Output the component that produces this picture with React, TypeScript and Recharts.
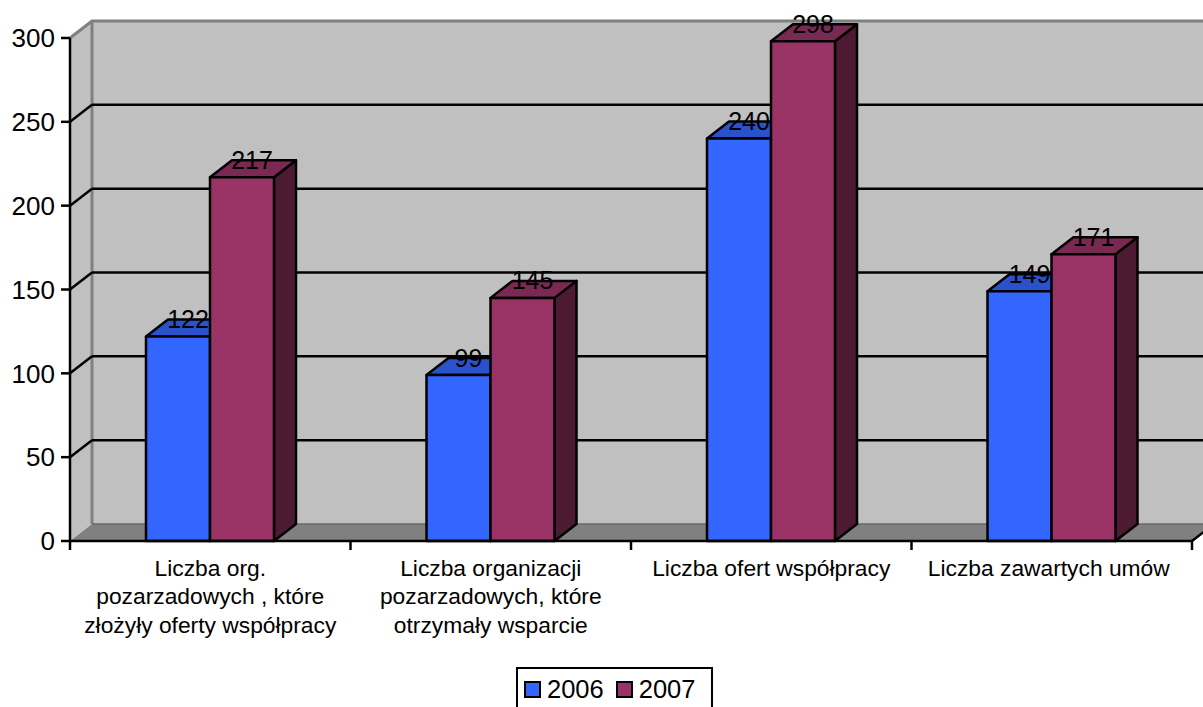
import React from "react"
import { BarChart, Bar, XAxis, YAxis, CartesianGrid, ReferenceArea, Legend } from "recharts"

const categories = [
    "Liczba org.\npozarzadowych , które\nzłożyły oferty współpracy",
    "Liczba organizacji\npozarzadowych, które\notrzymały wsparcie",
    "Liczba ofert współpracy",
    "Liczba zawartych umów",
]
const values2006 = [122, 99, 240, 149]
const values2007 = [217, 145, 298, 171]
const yTicks = [0, 50, 100, 150, 200, 250, 300]

const chartData = categories.map((name, i) => ({
    name,
    "2006": values2006[i],
    "2007": values2007[i],
}))

const FONT = '"Liberation Sans", Arial, sans-serif'
const DX = 22
const DY = 17
const PLOT_TOP = 38
const PLOT_BOTTOM = 541
const LINE = 2.5

// back wall, left wall and floor
const Walls = ({ x, y, width, height }: any) => {
    const b = y + height
    const r = x + width
    return (
        <g>
            <polygon points={`${x},${y} ${x + DX},${y - DY} ${r + DX},${y - DY} ${r + DX},${b - DY} ${x + DX},${b - DY} ${x},${b}`} fill="#c0c0c0" />
            <polyline points={`${x},${y} ${x + DX},${y - DY} ${r + DX},${y - DY}`} fill="none" stroke="#808080" strokeWidth={3} />
            <line x1={x + DX} y1={y - DY} x2={x + DX} y2={b - DY} stroke="#808080" strokeWidth={3} />
            <polygon points={`${x},${b} ${x + DX},${b - DY} ${r + DX},${b - DY} ${r},${b}`} fill="#808080" />
            <line x1={x + DX} y1={b - DY} x2={r + DX} y2={b - DY} stroke="#6a6a6a" strokeWidth={1.5} />
            <line x1={r} y1={b} x2={r + DX} y2={b - DY} stroke="#000" strokeWidth={LINE} />
        </g>
    )
}

const gridLine = (props: any) => {
    const { x1, y1, x2, y2, key } = props
    if (y1 <= PLOT_TOP + 1 || y1 >= PLOT_BOTTOM - 1) return <g key={key} />
    return (
        <g key={key}>
            <line x1={x1} y1={y1} x2={x1 + DX} y2={y1 - DY} stroke="#000" strokeWidth={LINE} />
            <line x1={x1 + DX} y1={y1 - DY} x2={x2 + DX} y2={y2 - DY} stroke="#000" strokeWidth={LINE} />
        </g>
    )
}

const makeBox = (topColor: string, sideColor: string) => (props: any) => {
    const { x, y, width, height, fill } = props
    return (
        <g stroke="#000" strokeWidth={LINE} strokeLinejoin="round">
            <polygon points={`${x + width},${y} ${x + width + DX},${y - DY} ${x + width + DX},${y + height - DY} ${x + width},${y + height}`} fill={sideColor} />
            <polygon points={`${x},${y} ${x + DX},${y - DY} ${x + width + DX},${y - DY} ${x + width},${y}`} fill={topColor} />
            <rect x={x} y={y} width={width} height={height} fill={fill} />
        </g>
    )
}

const valueLabel = ({ x, y, width, value }: any) => (
    <text x={x + width / 2 + 10} y={y - 8.5} textAnchor="middle" fontSize={25} fontFamily={FONT} fill="#000">
        {value}
    </text>
)

const CategoryTick = ({ x, y, payload, index, width }: any) => {
    const band = width / categories.length
    const lines = String(payload.value).split("\n")
    const left = payload.coordinate - band / 2
    // the last label sits slightly left of its band centre in the original
    const shift = index === categories.length - 1 ? -3 : 0
    return (
        <g>
            <line x1={left} y1={y - 8} x2={left} y2={y + 1} stroke="#000" strokeWidth={LINE} />
            {index === categories.length - 1 && (
                <line x1={left + band} y1={y - 8} x2={left + band} y2={y + 1} stroke="#000" strokeWidth={LINE} />
            )}
            {lines.map((line, i) => (
                <text key={i} x={x + shift} y={576 + i * 28.4} textAnchor="middle" fontSize={22.8} fontFamily={FONT} fill="#000">
                    {line}
                </text>
            ))}
        </g>
    )
}

const LegendBox = ({ payload }: any) => (
    <div
        style={{
            width: 197,
            height: 60,
            boxSizing: "border-box",
            border: "2.5px solid #000",
            background: "#fff",
            display: "flex",
            paddingLeft: 6,
            paddingTop: 3,
            fontFamily: FONT,
            fontSize: 25.5,
            lineHeight: "34px",
        }}
    >
        {payload.map((entry: any) => (
            <div key={entry.value} style={{ display: "flex", alignItems: "center", height: 34, marginRight: 12 }}>
                <span
                    style={{
                        width: 17,
                        height: 17,
                        boxSizing: "border-box",
                        border: "2px solid #000",
                        background: entry.color,
                        marginRight: 6,
                    }}
                />
                <span>{entry.value}</span>
            </div>
        ))}
    </div>
)

export default function App() {
    return (
        <div style={{ position: "absolute", left: 0, top: 0, width: 1203, height: 707, overflow: "hidden", background: "#fff" }}>
            <BarChart
                width={1203}
                height={707}
                data={chartData}
                margin={{ top: PLOT_TOP, right: 11, bottom: 0, left: 0 }}
                barSize={64}
                barGap={0}
            >
                <ReferenceArea y1={0} y2={300} shape={Walls} ifOverflow="visible" zIndex={-200} />
                <CartesianGrid horizontal={gridLine} vertical={false} />
                <XAxis
                    dataKey="name"
                    height={707 - PLOT_BOTTOM}
                    interval={0}
                    axisLine={{ stroke: "#000", strokeWidth: LINE }}
                    tickLine={false}
                    tick={<CategoryTick />}
                />
                <YAxis
                    width={70}
                    domain={[0, 300]}
                    ticks={yTicks}
                    interval={0}
                    tickSize={9}
                    tickMargin={6}
                    axisLine={{ stroke: "#000", strokeWidth: LINE }}
                    tickLine={{ stroke: "#000", strokeWidth: LINE }}
                    tick={{ fill: "#000", fontSize: 26, fontFamily: FONT }}
                />
                <Bar dataKey="2006" fill="#3366ff" shape={makeBox("#2952cc", "#1f3d99")} label={valueLabel} isAnimationActive={false} />
                <Bar dataKey="2007" fill="#993366" shape={makeBox("#7a2952", "#4d1a33")} label={valueLabel} isAnimationActive={false} />
                <Legend
                    layout="vertical"
                    align="center"
                    verticalAlign="middle"
                    content={<LegendBox />}
                    wrapperStyle={{ left: 516, top: 667, width: 197 }}
                />
            </BarChart>
        </div>
    )
}
